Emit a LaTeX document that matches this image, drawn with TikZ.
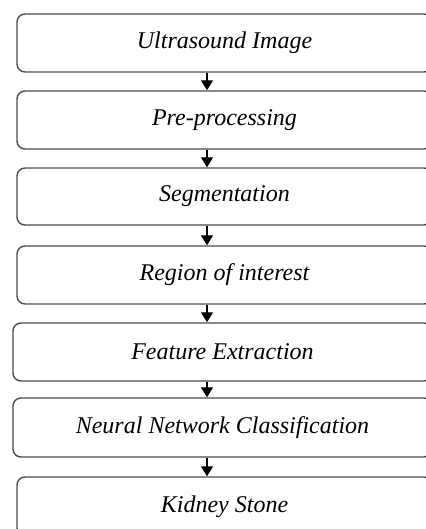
\documentclass[tikz,border=0pt]{standalone}
\usepackage{fontspec}
\setmainfont{Liberation Serif}
\usetikzlibrary{arrows.meta}
\begin{document}
\begin{tikzpicture}[x=1pt,y=-1pt,
  stepbox/.style={draw=black!70, line width=1.4pt, rounded corners=8pt, fill=white,
    inner sep=0pt, minimum width=415pt, minimum height=58pt,
    font=\fontsize{24}{28}\selectfont\itshape, text=black},
  widebox/.style={stepbox, minimum width=419pt},
  flow/.style={line width=1.3pt, -{Triangle[length=10pt,width=12pt]}}]
\useasboundingbox (0,0) rectangle (425,529);
\fill[white] (0,0) rectangle (425,529);
\node[stepbox] (b1) at (224.5,43) {Ultrasound Image};
\node[stepbox] (b2) at (224.5,120) {Pre-processing};
\node[stepbox, minimum height=57pt] (b3) at (224.5,196.5) {Segmentation};
\node[stepbox] (b4) at (224.5,275) {Region of interest};
\node[widebox] (b5) at (222.5,352) {Feature Extraction};
\node[widebox, minimum height=59pt] (b6) at (222.5,427.5) {Neural Network Classification};
\node[stepbox, minimum height=59pt] (b7) at (224.5,506.5) {Kidney Stone};
\coordinate (ax) at (207,0);
\draw[flow] (b1.south -| ax) -- (b2.north -| ax);
\draw[flow] (b2.south -| ax) -- (b3.north -| ax);
\draw[flow] (b3.south -| ax) -- (b4.north -| ax);
\draw[flow] (b4.south -| ax) -- (b5.north -| ax);
\draw[flow] (b5.south -| ax) -- (b6.north -| ax);
\draw[flow] (b6.south -| ax) -- (b7.north -| ax);
\end{tikzpicture}
\end{document}
